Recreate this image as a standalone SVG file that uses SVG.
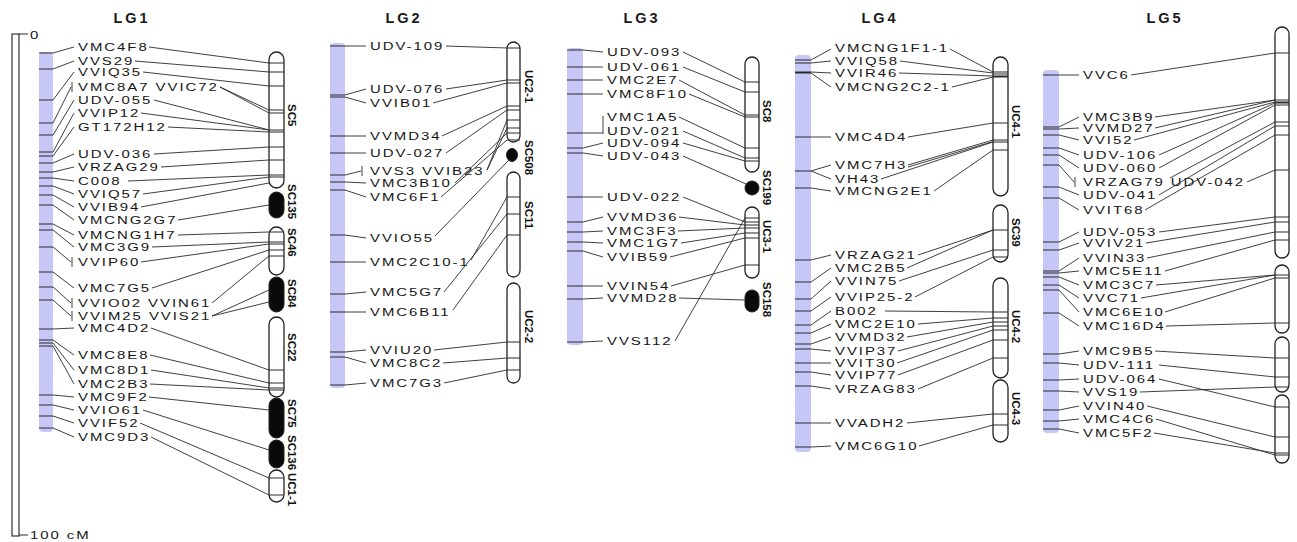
<svg xmlns="http://www.w3.org/2000/svg" width="1297" height="542" viewBox="0 0 1297 542">
<style>
.bar{fill:#c7c7f7}
.tk{stroke:#2a2a2a;stroke-width:1.2;fill:none}
.cn{stroke:#2a2a2a;stroke-width:0.9;fill:none}
.chr{fill:#fff;stroke:#222;stroke-width:1.3}
.blk{fill:#0a0a0a;stroke:#222;stroke-width:1}
.lb{font-family:"Liberation Sans",Arial,sans-serif;font-size:11.5px;letter-spacing:1.5px;fill:#161616}
.ttl{font-family:"Liberation Sans",Arial,sans-serif;font-size:14.5px;font-weight:bold;letter-spacing:3px;fill:#1a1a1a;text-anchor:middle}
.cl{font-family:"Liberation Sans",Arial,sans-serif;font-size:11.5px;font-weight:bold;fill:#111}
</style>
<rect width="1297" height="542" fill="#fff"/>

<g id="ruler">
<rect x="12" y="34" width="7" height="502" fill="#fff" stroke="#333" stroke-width="1.2"/>
<path class="tk" d="M19 34H28M19 535H28"/>
<text class="lb" x="30" y="39" transform="matrix(1.3 0 0 1 -9 0)">0</text>
<text class="lb" x="30" y="539.5" transform="matrix(1.3 0 0 1 -9 0)">100 cM</text>
</g>

<!-- ============ LG1 ============ -->
<g id="LG1">
<text class="ttl" x="132" y="23">LG1</text>
<rect class="bar" x="39" y="52" width="14" height="380" rx="4"/>
<path class="tk" d="M39 53h14M39 69h14M39 100h14M39 123h14M39 135h14M39 152h14M39 156h14M39 163h14M39 172h14M39 178h14M39 186h14M39 195h14M39 205h14M39 224h14M39 230h14M39 247h14M39 272h14M39 287h14M39 300h14M39 329h14M39 340h14M39 343h14M39 346h14M39 395h14M39 405h14M39 416h14M39 428h14"/>
</g>
<g id="LG1-labels" class="lb" transform="matrix(1.3 0 0 1 -23.4 0)">
<text x="78" y="51">VMC4F8</text>
<text x="78" y="65">VVS29</text>
<text x="78" y="76">VVIQ35</text>
<text x="78" y="91">VMC8A7 VVIC72</text>
<text x="78" y="104">UDV-055</text>
<text x="78" y="117">VVIP12</text>
<text x="78" y="131">GT172H12</text>
<text x="78" y="158">UDV-036</text>
<text x="78" y="171">VRZAG29</text>
<text x="78" y="185">C008</text>
<text x="78" y="198">VVIQ57</text>
<text x="78" y="211">VVIB94</text>
<text x="78" y="224">VMCNG2G7</text>
<text x="78" y="239">VMCNG1H7</text>
<text x="78" y="251">VMC3G9</text>
<text x="78" y="266">VVIP60</text>
<text x="78" y="292">VMC7G5</text>
<text x="78" y="307">VVIO02 VVIN61</text>
<text x="78" y="320">VVIM25 VVIS21</text>
<text x="78" y="332">VMC4D2</text>
<text x="78" y="359">VMC8E8</text>
<text x="78" y="374">VMC8D1</text>
<text x="78" y="388">VMC2B3</text>
<text x="78" y="401">VMC9F2</text>
<text x="78" y="414">VVIO61</text>
<text x="78" y="427">VVIF52</text>
<text x="78" y="441">VMC9D3</text>
</g>
<g id="LG1-SC5"><rect class="chr" x="269" y="52" width="15" height="136" rx="7.5"/>
<path class="tk" d="M269 63h15M269 72h15M269 86h15M269 110h15M269 113h15M269 130h15M269 132h15M269 147h15M269 160h15M269 175h15M269 177h15"/>
<text class="cl" transform="translate(288,104) rotate(90)">SC5</text></g>
<g id="LG1-SC135"><rect class="blk" x="269" y="192" width="15" height="26" rx="7.5"/>
<text class="cl" transform="translate(288,184) rotate(90)">SC135</text></g>
<g id="LG1-SC46"><rect class="chr" x="269" y="227" width="15" height="48" rx="7.5"/>
<path class="tk" d="M269 232h15M269 242h15M269 244h15M269 250h15M269 256h15"/>
<text class="cl" transform="translate(288,228) rotate(90)">SC46</text></g>
<g id="LG1-SC84"><rect class="blk" x="269" y="277" width="15" height="35" rx="7.5"/>
<text class="cl" transform="translate(288,279) rotate(90)">SC84</text></g>
<g id="LG1-SC22"><rect class="chr" x="269" y="317" width="15" height="80" rx="7.5"/>
<path class="tk" d="M269 370h15M269 383h15M269 388h15M269 390h15"/>
<text class="cl" transform="translate(288,333) rotate(90)">SC22</text></g>
<g id="LG1-SC75"><rect class="blk" x="269" y="398" width="15" height="40" rx="7.5"/>
<text class="cl" transform="translate(288,399) rotate(90)">SC75</text></g>
<g id="LG1-SC136"><rect class="blk" x="269" y="440" width="15" height="28" rx="7.5"/>
<text class="cl" transform="translate(288,435) rotate(90)">SC136</text></g>
<g id="LG1-UC1-1"><rect class="chr" x="269" y="470" width="15" height="32" rx="7.5"/>
<path class="tk" d="M269 478h15M269 495h15"/>
<text class="cl" transform="translate(288,473) rotate(90)">UC1-1</text></g>

<!-- ============ LG2 ============ -->
<g id="LG2">
<text class="ttl" x="404" y="23">LG2</text>
<rect class="bar" x="330" y="43" width="15" height="345" rx="4"/>
<path class="tk" d="M330 46h15M330 95h15M330 97h15M330 136h15M330 153h15M330 175h15M330 182h15M330 190h15M330 235h15M330 262h15M330 294h15M330 312h15M330 352h15M330 357h15M330 385h15"/>
</g>
<g id="LG2-labels" class="lb" transform="matrix(1.3 0 0 1 -111 0)">
<text x="370" y="50">UDV-109</text>
<text x="370" y="93">UDV-076</text>
<text x="370" y="107">VVIB01</text>
<text x="370" y="140">VVMD34</text>
<text x="370" y="157">UDV-027</text>
<text x="370" y="175">VVS3 VVIB23</text>
<text x="370" y="187">VMC3B10</text>
<text x="370" y="201">VMC6F1</text>
<text x="370" y="242">VVIO55</text>
<text x="370" y="266">VMC2C10-1</text>
<text x="370" y="296">VMC5G7</text>
<text x="370" y="316">VMC6B11</text>
<text x="370" y="354">VVIU20</text>
<text x="370" y="367">VMC8C2</text>
<text x="370" y="387">VMC7G3</text>
</g>
<g id="LG2-UC2-1"><rect class="chr" x="507" y="42" width="13" height="100" rx="6.5"/>
<path class="tk" d="M507 48h13M507 80h13M507 83h13M507 106h13M507 110h13M507 120h13M507 128h13M507 133h13M507 140h13"/>
<text class="cl" transform="translate(525,70) rotate(90)">UC2-1</text></g>
<g id="LG2-SC508"><ellipse class="blk" cx="512" cy="155" rx="5.5" ry="6.5"/>
<text class="cl" transform="translate(525,140) rotate(90)">SC508</text></g>
<g id="LG2-SC11"><rect class="chr" x="507" y="172" width="13" height="105" rx="6.5"/>
<path class="tk" d="M507 197h13M507 214h13M507 235h13"/>
<text class="cl" transform="translate(525,201) rotate(90)">SC11</text></g>
<g id="LG2-UC2-2"><rect class="chr" x="507" y="283" width="13" height="100" rx="6.5"/>
<path class="tk" d="M507 342h13M507 358h13M507 370h13"/>
<text class="cl" transform="translate(525,310) rotate(90)">UC2-2</text></g>

<!-- ============ LG3 ============ -->
<g id="LG3">
<text class="ttl" x="642" y="23">LG3</text>
<rect class="bar" x="567" y="48" width="16" height="297" rx="4"/>
<path class="tk" d="M567 50h16M567 67h16M567 80h16M567 94h16M567 133h16M567 148h16M567 153h16M567 197h16M567 222h16M567 232h16M567 242h16M567 251h16M567 286h16M567 299h16M567 342h16"/>
</g>
<g id="LG3-labels" class="lb" transform="matrix(1.3 0 0 1 -182.1 0)">
<text x="607" y="56">UDV-093</text>
<text x="607" y="71">UDV-061</text>
<text x="607" y="84">VMC2E7</text>
<text x="607" y="98">VMC8F10</text>
<text x="607" y="121">VMC1A5</text>
<text x="607" y="135">UDV-021</text>
<text x="607" y="147">UDV-094</text>
<text x="607" y="160">UDV-043</text>
<text x="607" y="201">UDV-022</text>
<text x="607" y="221">VVMD36</text>
<text x="607" y="235">VMC3F3</text>
<text x="607" y="247">VMC1G7</text>
<text x="607" y="261">VVIB59</text>
<text x="607" y="290">VVIN54</text>
<text x="607" y="302">VVMD28</text>
<text x="607" y="345">VVS112</text>
</g>
<g id="LG3-SC8"><rect class="chr" x="745" y="57" width="14" height="115" rx="7"/>
<path class="tk" d="M745 82h14M745 92h14M745 115h14M745 117h14M745 148h14M745 158h14M745 161h14"/>
<text class="cl" transform="translate(763,100) rotate(90)">SC8</text></g>
<g id="LG3-SC199"><circle class="blk" cx="752" cy="188" r="7"/>
<text class="cl" transform="translate(763,170) rotate(90)">SC199</text></g>
<g id="LG3-UC3-1"><rect class="chr" x="745" y="207" width="14" height="71" rx="7"/>
<path class="tk" d="M745 218h14M745 222h14M745 225h14M745 228h14M745 233h14M745 238h14M745 265h14"/>
<text class="cl" transform="translate(763,220) rotate(90)">UC3-1</text></g>
<g id="LG3-SC158"><rect class="blk" x="745" y="290" width="14" height="22" rx="7"/>
<text class="cl" transform="translate(763,282) rotate(90)">SC158</text></g>

<!-- ============ LG4 ============ -->
<g id="LG4">
<text class="ttl" x="880" y="23">LG4</text>
<rect class="bar" x="795" y="55" width="16" height="397" rx="4"/>
<path class="tk" d="M795 60h16M795 63h16M795 72h16M795 73h16M795 137h16M795 171h16M795 188h16M795 260h16M795 282h16M795 299h16M795 311h16M795 325h16M795 333h16M795 344h16M795 349h16M795 363h16M795 372h16M795 386h16M795 423h16M795 447h16"/>
</g>
<g id="LG4-labels" class="lb" transform="matrix(1.3 0 0 1 -250.5 0)">
<text x="835" y="52.5">VMCNG1F1-1</text>
<text x="835" y="65">VVIQ58</text>
<text x="835" y="77">VVIR46</text>
<text x="835" y="91">VMCNG2C2-1</text>
<text x="835" y="141">VMC4D4</text>
<text x="835" y="169">VMC7H3</text>
<text x="835" y="183">VH43</text>
<text x="835" y="195">VMCNG2E1</text>
<text x="835" y="259">VRZAG21</text>
<text x="835" y="272">VMC2B5</text>
<text x="835" y="285">VVIN75</text>
<text x="835" y="301">VVIP25-2</text>
<text x="835" y="315">B002</text>
<text x="835" y="328">VMC2E10</text>
<text x="835" y="341">VVMD32</text>
<text x="835" y="355">VVIP37</text>
<text x="835" y="367">VVIT30</text>
<text x="835" y="379">VVIP77</text>
<text x="835" y="393">VRZAG83</text>
<text x="835" y="427">VVADH2</text>
<text x="835" y="450">VMC6G10</text>
</g>
<g id="LG4-UC4-1"><rect class="chr" x="993" y="57" width="15" height="139" rx="7.5"/>
<path class="tk" d="M993 72h15M993 74h15M993 76h15M993 77h15M993 123h15M993 140h15M993 142h15M993 150h15"/>
<text class="cl" transform="translate(1012,105) rotate(90)">UC4-1</text></g>
<g id="LG4-SC39"><rect class="chr" x="993" y="205" width="15" height="57" rx="7.5"/>
<path class="tk" d="M993 230h15M993 250h15M993 257h15"/>
<text class="cl" transform="translate(1012,218) rotate(90)">SC39</text></g>
<g id="LG4-UC4-2"><rect class="chr" x="993" y="278" width="15" height="100" rx="7.5"/>
<path class="tk" d="M993 312h15M993 318h15M993 322h15M993 326h15M993 330h15M993 340h15M993 358h15"/>
<text class="cl" transform="translate(1012,310) rotate(90)">UC4-2</text></g>
<g id="LG4-UC4-3"><rect class="chr" x="993" y="380" width="15" height="62" rx="7.5"/>
<path class="tk" d="M993 414h15M993 425h15"/>
<text class="cl" transform="translate(1012,392) rotate(90)">UC4-3</text></g>

<!-- ============ LG5 ============ -->
<g id="LG5">
<text class="ttl" x="1165" y="23">LG5</text>
<rect class="bar" x="1043" y="70" width="16" height="363" rx="4"/>
<path class="tk" d="M1043 75h16M1043 127h16M1043 129h16M1043 135h16M1043 148h16M1043 155h16M1043 165h16M1043 187h16M1043 198h16M1043 242h16M1043 250h16M1043 271h16M1043 273h16M1043 277h16M1043 285h16M1043 290h16M1043 313h16M1043 354h16M1043 363h16M1043 380h16M1043 391h16M1043 410h16M1043 421h16M1043 429h16"/>
</g>
<g id="LG5-labels" class="lb" transform="matrix(1.3 0 0 1 -324.9 0)">
<text x="1083" y="79">VVC6</text>
<text x="1083" y="121">VMC3B9</text>
<text x="1083" y="132">VVMD27</text>
<text x="1083" y="144">VVI52</text>
<text x="1083" y="159">UDV-106</text>
<text x="1083" y="172">UDV-060</text>
<text x="1083" y="186">VRZAG79 UDV-042</text>
<text x="1083" y="199">UDV-041</text>
<text x="1083" y="214">VVIT68</text>
<text x="1083" y="236">UDV-053</text>
<text x="1083" y="247">VVIV21</text>
<text x="1083" y="262">VVIN33</text>
<text x="1083" y="275">VMC5E11</text>
<text x="1083" y="289">VMC3C7</text>
<text x="1083" y="302">VVC71</text>
<text x="1083" y="316">VMC6E10</text>
<text x="1083" y="330">VMC16D4</text>
<text x="1083" y="355">VMC9B5</text>
<text x="1083" y="369">UDV-111</text>
<text x="1083" y="383">UDV-064</text>
<text x="1083" y="396">VVS19</text>
<text x="1083" y="410">VVIN40</text>
<text x="1083" y="423">VMC4C6</text>
<text x="1083" y="437">VMC5F2</text>
</g>
<g id="LG5-chrA"><rect class="chr" x="1275" y="27" width="14" height="231" rx="7"/>
<path class="tk" d="M1275 53h14M1275 100h14M1275 102h14M1275 103h14M1275 105h14M1275 122h14M1275 126h14M1275 135h14M1275 170h14M1275 217h14M1275 222h14M1275 232h14M1275 240h14"/></g>
<g id="LG5-chrB"><rect class="chr" x="1275" y="265" width="14" height="68" rx="7"/>
<path class="tk" d="M1275 275h14M1275 278h14M1275 323h14"/></g>
<g id="LG5-chrC"><rect class="chr" x="1275" y="337" width="14" height="55" rx="7"/>
<path class="tk" d="M1275 358h14M1275 377h14M1275 387h14"/></g>
<g id="LG5-chrD"><rect class="chr" x="1275" y="395" width="14" height="68" rx="7"/>
<path class="tk" d="M1275 407h14M1275 437h14M1275 453h14M1275 455h14"/></g>

<!-- ============ connectors ============ -->
<g id="connectors" class="cn">
<path d="M53 53L74 47M53 69L74 61M53 100L74 72M53 123L71 87M72 82V92M53 135L74 100M53 152L74 113M53 156L74 127M53 163L74 154M53 172L74 167M53 178L74 181M53 186L74 194M53 195L74 207M53 205L74 220M53 224L74 235M53 230L74 247M53 247L71 262M72 257V267M53 272L74 288M53 287L71 303M72 298V308M53 300L71 316M72 311V321M53 329L74 328M53 340L74 355M53 343L74 370M53 346L74 384M53 395L74 397M53 405L74 410M53 416L74 423M53 428L74 437"/>
<path d="M149 47L269 63M135 61L269 72M143 72L269 86M220 87L269 110M220 87L269 113M154 100L269 130M141 113L269 130M168 127L269 132M154 154L269 147M161 167L269 160M128 181L269 175M143 194L269 177M141 207L269 183M178 220L269 205M178 235L269 232M152 247L269 242M141 262L269 244M152 288L269 250M212 303L269 256M212 316L269 290M212 316L269 302M151 328L269 370M150 355L269 383M151 370L269 388M150 384L269 390M149 397L269 410M143 410L269 450M140 423L269 478M151 437L269 495"/>
<path d="M345 46L366 46M345 95L366 89M345 97L366 103M345 136L366 136M345 153L366 153M345 175L361 171M362 166V176M345 182L366 183M345 190L366 197M345 235L366 238M345 262L366 262M345 294L366 292M345 312L366 312M345 352L366 350M345 357L366 363M345 385L366 383"/>
<path d="M446 46L507 48M446 89L507 80M433 103L507 83M442 136L507 106M446 153L507 110M487 170L507 120M487 170L507 128M455 183L507 133M441 197L507 140M435 236L509 160M471 260L507 197M444 292L507 214M453 310L507 235M434 350L507 342M443 363L507 358M444 383L507 370"/>
<path d="M583 50L603 52M583 67L603 67M583 80L603 80M583 94L603 94M583 133L603 133M603 116V134M583 148L603 143M583 153L603 156M583 197L603 197M583 222L603 217M583 232L603 231M583 242L603 243M583 251L603 257M583 286L603 286M583 299L603 298M583 342L603 341"/>
<path d="M683 52L745 82M683 67L745 92M679 80L745 115M689 94L745 117M679 117L745 148M683 131L745 158M683 143L745 161M683 156L746 184M683 197L745 222M679 217L745 225M678 231L745 228M681 243L745 233M670 257L745 238M671 286L745 265M679 298L745 300M675 341L745 218"/>
<path d="M811 60L831 49M811 63L831 61M811 72L831 73M811 73L831 87M811 137L831 137M811 171L831 165M811 171L831 179M811 188L831 191M811 260L831 255M811 282L831 268M811 299L831 281M811 311L831 297M811 325L831 311M811 333L831 324M811 344L831 337M811 349L831 351M811 363L831 363M811 372L831 375M811 386L831 389M811 423L831 423M811 447L831 446"/>
<path d="M950 49L993 72M900 61L993 73M899 73L993 76M952 87L993 77M908 137L993 123M908 165L993 140M908 167L993 141.5M881 179L993 142M934 191L993 150M918 255L993 230M907 268L993 230M899 281L993 250M915 297L993 257M885 311L993 312M918 324L993 318M907 337L993 322M898 351L993 326M897 363L993 330M898 375L993 340M918 389L993 358M907 423L993 414M919 446L993 425"/>
<path d="M1059 75L1079 75M1059 127L1079 117M1059 129L1079 128M1059 135L1079 140M1059 148L1079 155M1059 155L1079 168M1059 165L1074 182M1075 177V187M1059 187L1079 195M1059 198L1079 210M1059 242L1079 232M1059 250L1079 243M1059 271L1079 258M1059 273L1079 271M1059 277L1079 285M1059 285L1079 298M1059 290L1079 312M1059 313L1079 326M1059 354L1079 351M1059 363L1079 365M1059 380L1079 379M1059 391L1079 392M1059 410L1079 406M1059 421L1079 419M1059 429L1079 433"/>
<path d="M1131 75L1275 53M1155 117L1275 100M1155 128L1275 100M1134 140L1275 102M1159 155L1275 103M1159 168L1275 105M1170 178L1275 122M1247 182L1275 170M1159 195L1275 126M1145 210L1275 135M1159 232L1275 217M1146 243L1275 222M1147 258L1275 232M1165 271L1275 240M1156 285L1275 275M1141 298L1275 275M1165 312L1275 278M1166 326L1275 323M1155 351L1275 358M1159 365L1275 377M1159 379L1275 407M1140 392L1275 387M1147 406L1275 437M1156 419L1275 455M1154 433L1275 453"/>
</g>
</svg>
